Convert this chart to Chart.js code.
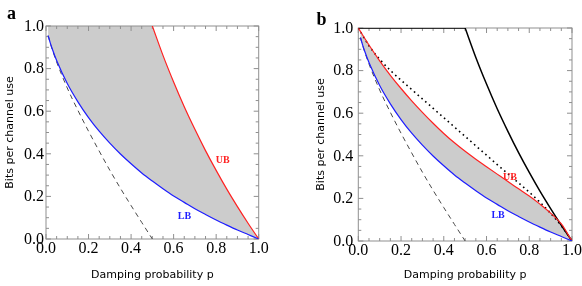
<!DOCTYPE html>
<html>
<head>
<meta charset="utf-8">
<script src="https://cdn.jsdelivr.net/npm/chart.js@4.4.1/dist/chart.umd.min.js"></script>
<style>
  html, body { margin: 0; padding: 0; background: #fff; }
  #wrap { position: relative; width: 582px; height: 286px; }
  canvas { position: absolute; top: 0; }
  #chartA { left: 0; }
  #chartB { left: 290px; }
</style>
</head>
<body>
<div id="wrap">
  <canvas id="chartA" width="290" height="286"></canvas>
  <canvas id="chartB" width="292" height="286"></canvas>
</div>
<script>
// Datos (probabilidad de amortiguamiento p)
const pGrid = [0.01, 0.02, 0.03, 0.05, 0.1, 0.15, 0.2, 0.25, 0.3, 0.35, 0.4, 0.45, 0.5,
               0.55, 0.6, 0.65, 0.7, 0.75, 0.8, 0.85, 0.9, 0.95, 1.0];
const lowerBound = [0.955, 0.921, 0.891, 0.838, 0.730, 0.644, 0.570, 0.506, 0.450, 0.399, 0.353, 0.310, 0.272,
                    0.236, 0.202, 0.172, 0.142, 0.115, 0.089, 0.065, 0.042, 0.021, 0];

const pCoherent = [0.01, 0.02, 0.03, 0.05, 0.1, 0.15, 0.2, 0.25, 0.3, 0.35, 0.4, 0.45, 0.5];
const coherent = [0.955, 0.919, 0.888, 0.831, 0.709, 0.604, 0.506, 0.413, 0.323, 0.238, 0.157, 0.078, 0];

const pUpper = [0.5, 0.55, 0.6, 0.65, 0.7, 0.75, 0.8, 0.85, 0.9, 0.95, 1.0];
const upperA = [1, 0.862, 0.737, 0.621, 0.515, 0.415, 0.322, 0.234, 0.152, 0.074, 0];

const pFlat = [0, 0.5];
const flatTop = [1, 1];

const pB = [0, 0.05, 0.1, 0.15, 0.2, 0.25, 0.3, 0.35, 0.4, 0.45, 0.5,
            0.55, 0.6, 0.65, 0.7, 0.75, 0.8, 0.85, 0.9, 0.95, 1.0];
const upperB = [1, 0.92, 0.846, 0.778, 0.716, 0.658, 0.604, 0.553, 0.505, 0.461, 0.421,
                0.384, 0.349, 0.314, 0.279, 0.245, 0.211, 0.173, 0.131, 0.08, 0];
const dottedB = [1, 0.917, 0.853, 0.801, 0.755, 0.711, 0.667, 0.623, 0.579, 0.535, 0.491,
                 0.447, 0.403, 0.359, 0.316, 0.273, 0.229, 0.182, 0.13, 0.071, 0];

const tickValues = [0, 0.2, 0.4, 0.6, 0.8, 1.0];
const tickLabels = ['0.0', '0.2', '0.4', '0.6', '0.8', '1.0'];

const pts = (xs, ys) => xs.map((x, i) => ({x: x, y: ys[i]}));

// borde superior del area gris del panel a: tope 1 y despues la curva UB
const upperFillA = pts(pFlat, flatTop).concat(pts(pUpper, upperA).slice(1));

const SERIF = '"Liberation Serif", "Times New Roman", Times, "DejaVu Serif", serif';
const SANS = '"DejaVu Sans", Verdana, sans-serif';
const GRAY_FILL = 'rgb(204, 204, 204)';
const BLUE = '#1e1eff';
const RED = '#ff2222';

// marco gris con marcas hacia dentro y numeros de los ejes
const framePlugin = {
    id: 'frame',
    beforeDatasetsDraw(chart, args, opts) {
        const {ctx, chartArea: a, scales: {x, y}} = chart;
        ctx.save();
        ctx.strokeStyle = '#8f8f8f';
        ctx.lineWidth = 1;
        ctx.strokeRect(a.left, a.top, a.right - a.left, a.bottom - a.top);
        ctx.beginPath();
        for (let k = 0; k <= 20; k++) {
            const v = k / 20;
            const len = k % 4 === 0 ? 5 : 3;
            const px = x.getPixelForValue(v);
            const py = y.getPixelForValue(v);
            ctx.moveTo(px, a.bottom); ctx.lineTo(px, a.bottom - len);
            ctx.moveTo(px, a.top); ctx.lineTo(px, a.top + len);
            ctx.moveTo(a.left, py); ctx.lineTo(a.left + len, py);
            ctx.moveTo(a.right, py); ctx.lineTo(a.right - len, py);
        }
        ctx.stroke();

        ctx.fillStyle = '#000';
        ctx.font = '16px ' + SERIF;
        ctx.textBaseline = 'middle';
        ctx.textAlign = 'center';
        tickValues.forEach((v, i) => {
            ctx.fillText(tickLabels[i], x.getPixelForValue(v), a.bottom + 9.5);
        });
        ctx.textAlign = 'right';
        tickValues.forEach((v, i) => {
            ctx.fillText(tickLabels[i], a.left - opts.yPad, y.getPixelForValue(v) + 0.5);
        });
        ctx.restore();
    }
};

// etiquetas UB / LB y letra del panel
const textPlugin = {
    id: 'texts',
    afterDatasetsDraw(chart, args, opts) {
        const {ctx, scales: {x, y}} = chart;
        ctx.save();
        ctx.textAlign = 'center';
        ctx.textBaseline = 'middle';
        ctx.font = 'bold 10px ' + SERIF;
        (opts.labels || []).forEach(l => {
            ctx.fillStyle = l.color;
            ctx.fillText(l.text, x.getPixelForValue(l.x), y.getPixelForValue(l.y));
        });
        ctx.font = 'bold 18px ' + SERIF;
        ctx.fillStyle = '#000';
        ctx.textAlign = 'left';
        ctx.textBaseline = 'alphabetic';
        ctx.fillText(opts.letter.text, opts.letter.x, opts.letter.y);
        ctx.restore();
    }
};

function makeScales(yWidth, xHeight, yTitlePad) {
    return {
        x: {
            type: 'linear', min: 0, max: 1,
            afterFit: s => { s.height = xHeight; },
            grid: {display: false},
            border: {display: false},
            ticks: {display: false},
            title: {
                display: true, text: 'Damping probability p', color: '#000',
                font: {family: SANS, size: 11},
                padding: {top: 0, bottom: 4}
            }
        },
        y: {
            type: 'linear', min: 0, max: 1,
            afterFit: s => { s.width = yWidth; },
            grid: {display: false},
            border: {display: false},
            ticks: {display: false},
            title: {
                display: true, text: 'Bits per channel use', color: '#000',
                font: {family: SANS, size: 11},
                padding: {top: yTitlePad, bottom: 0}
            }
        }
    };
}

const curve = {pointRadius: 0, cubicInterpolationMode: 'monotone', fill: false};
const straight = {pointRadius: 0, tension: 0, fill: false};

// Panel a
new Chart(document.getElementById('chartA'), {
    type: 'line',
    data: {
        datasets: [
            Object.assign({}, curve, {
                label: 'LB', data: pts(pGrid, lowerBound),
                borderColor: BLUE, borderWidth: 1.2, order: 1
            }),
            Object.assign({}, curve, {
                label: 'UB', data: pts(pUpper, upperA),
                borderColor: RED, borderWidth: 1.2, order: 2
            }),
            Object.assign({}, curve, {
                label: 'Q1', data: pts(pCoherent, coherent),
                borderColor: '#4a4a4a', borderWidth: 1, borderDash: [5, 4], order: 3
            }),
            Object.assign({}, straight, {
                label: 'region', data: upperFillA,
                borderWidth: 0, borderColor: 'rgba(0,0,0,0)',
                backgroundColor: GRAY_FILL, fill: {target: 0}, order: 10
            })
        ]
    },
    options: {
        responsive: false,
        animation: false,
        layout: {padding: {top: 26, right: 31.3, left: 0, bottom: 0}},
        scales: makeScales(46, 47, 3.4),
        plugins: {
            legend: {display: false},
            tooltip: {enabled: false},
            filler: {drawTime: 'beforeDatasetsDraw'},
            frame: {yPad: 2},
            texts: {
                letter: {text: 'a', x: 7, y: 19},
                labels: [
                    {text: 'UB', x: 0.831, y: 0.371, color: RED},
                    {text: 'LB', x: 0.651, y: 0.106, color: BLUE}
                ]
            }
        }
    },
    plugins: [framePlugin, textPlugin]
});

// Panel b
new Chart(document.getElementById('chartB'), {
    type: 'line',
    data: {
        datasets: [
            Object.assign({}, curve, {
                label: 'UB', data: pts(pB, upperB),
                borderColor: RED, borderWidth: 1.2, order: 2
            }),
            Object.assign({}, curve, {
                label: 'LB', data: pts(pGrid, lowerBound),
                borderColor: BLUE, borderWidth: 1.2, order: 1,
                backgroundColor: GRAY_FILL, fill: {target: 0}
            }),
            Object.assign({}, curve, {
                label: 'Q1', data: pts(pCoherent, coherent),
                borderColor: '#4a4a4a', borderWidth: 1, borderDash: [5, 4], order: 3
            }),
            Object.assign({}, curve, {
                label: 'dotted', data: pts(pB, dottedB),
                borderColor: '#000', borderWidth: 1.6, borderDash: [1.6, 3.4], order: 4
            }),
            Object.assign({}, straight, {
                label: 'cap', data: pts(pFlat, flatTop),
                borderColor: '#000', borderWidth: 1.5, order: 5
            }),
            Object.assign({}, curve, {
                label: 'min(1,-log p)', data: pts(pUpper, upperA),
                borderColor: '#000', borderWidth: 1.5, order: 6
            })
        ]
    },
    options: {
        responsive: false,
        animation: false,
        layout: {padding: {top: 28, right: 10, left: 0, bottom: 0}},
        scales: makeScales(68.3, 45, 25),
        plugins: {
            legend: {display: false},
            tooltip: {enabled: false},
            filler: {drawTime: 'beforeDatasetsDraw'},
            frame: {yPad: 5},
            texts: {
                letter: {text: 'b', x: 26.5, y: 25},
                labels: [
                    {text: 'UB', x: 0.71, y: 0.298, color: RED},
                    {text: 'LB', x: 0.654, y: 0.119, color: BLUE}
                ]
            }
        }
    },
    plugins: [framePlugin, textPlugin]
});
</script>
</body>
</html>
